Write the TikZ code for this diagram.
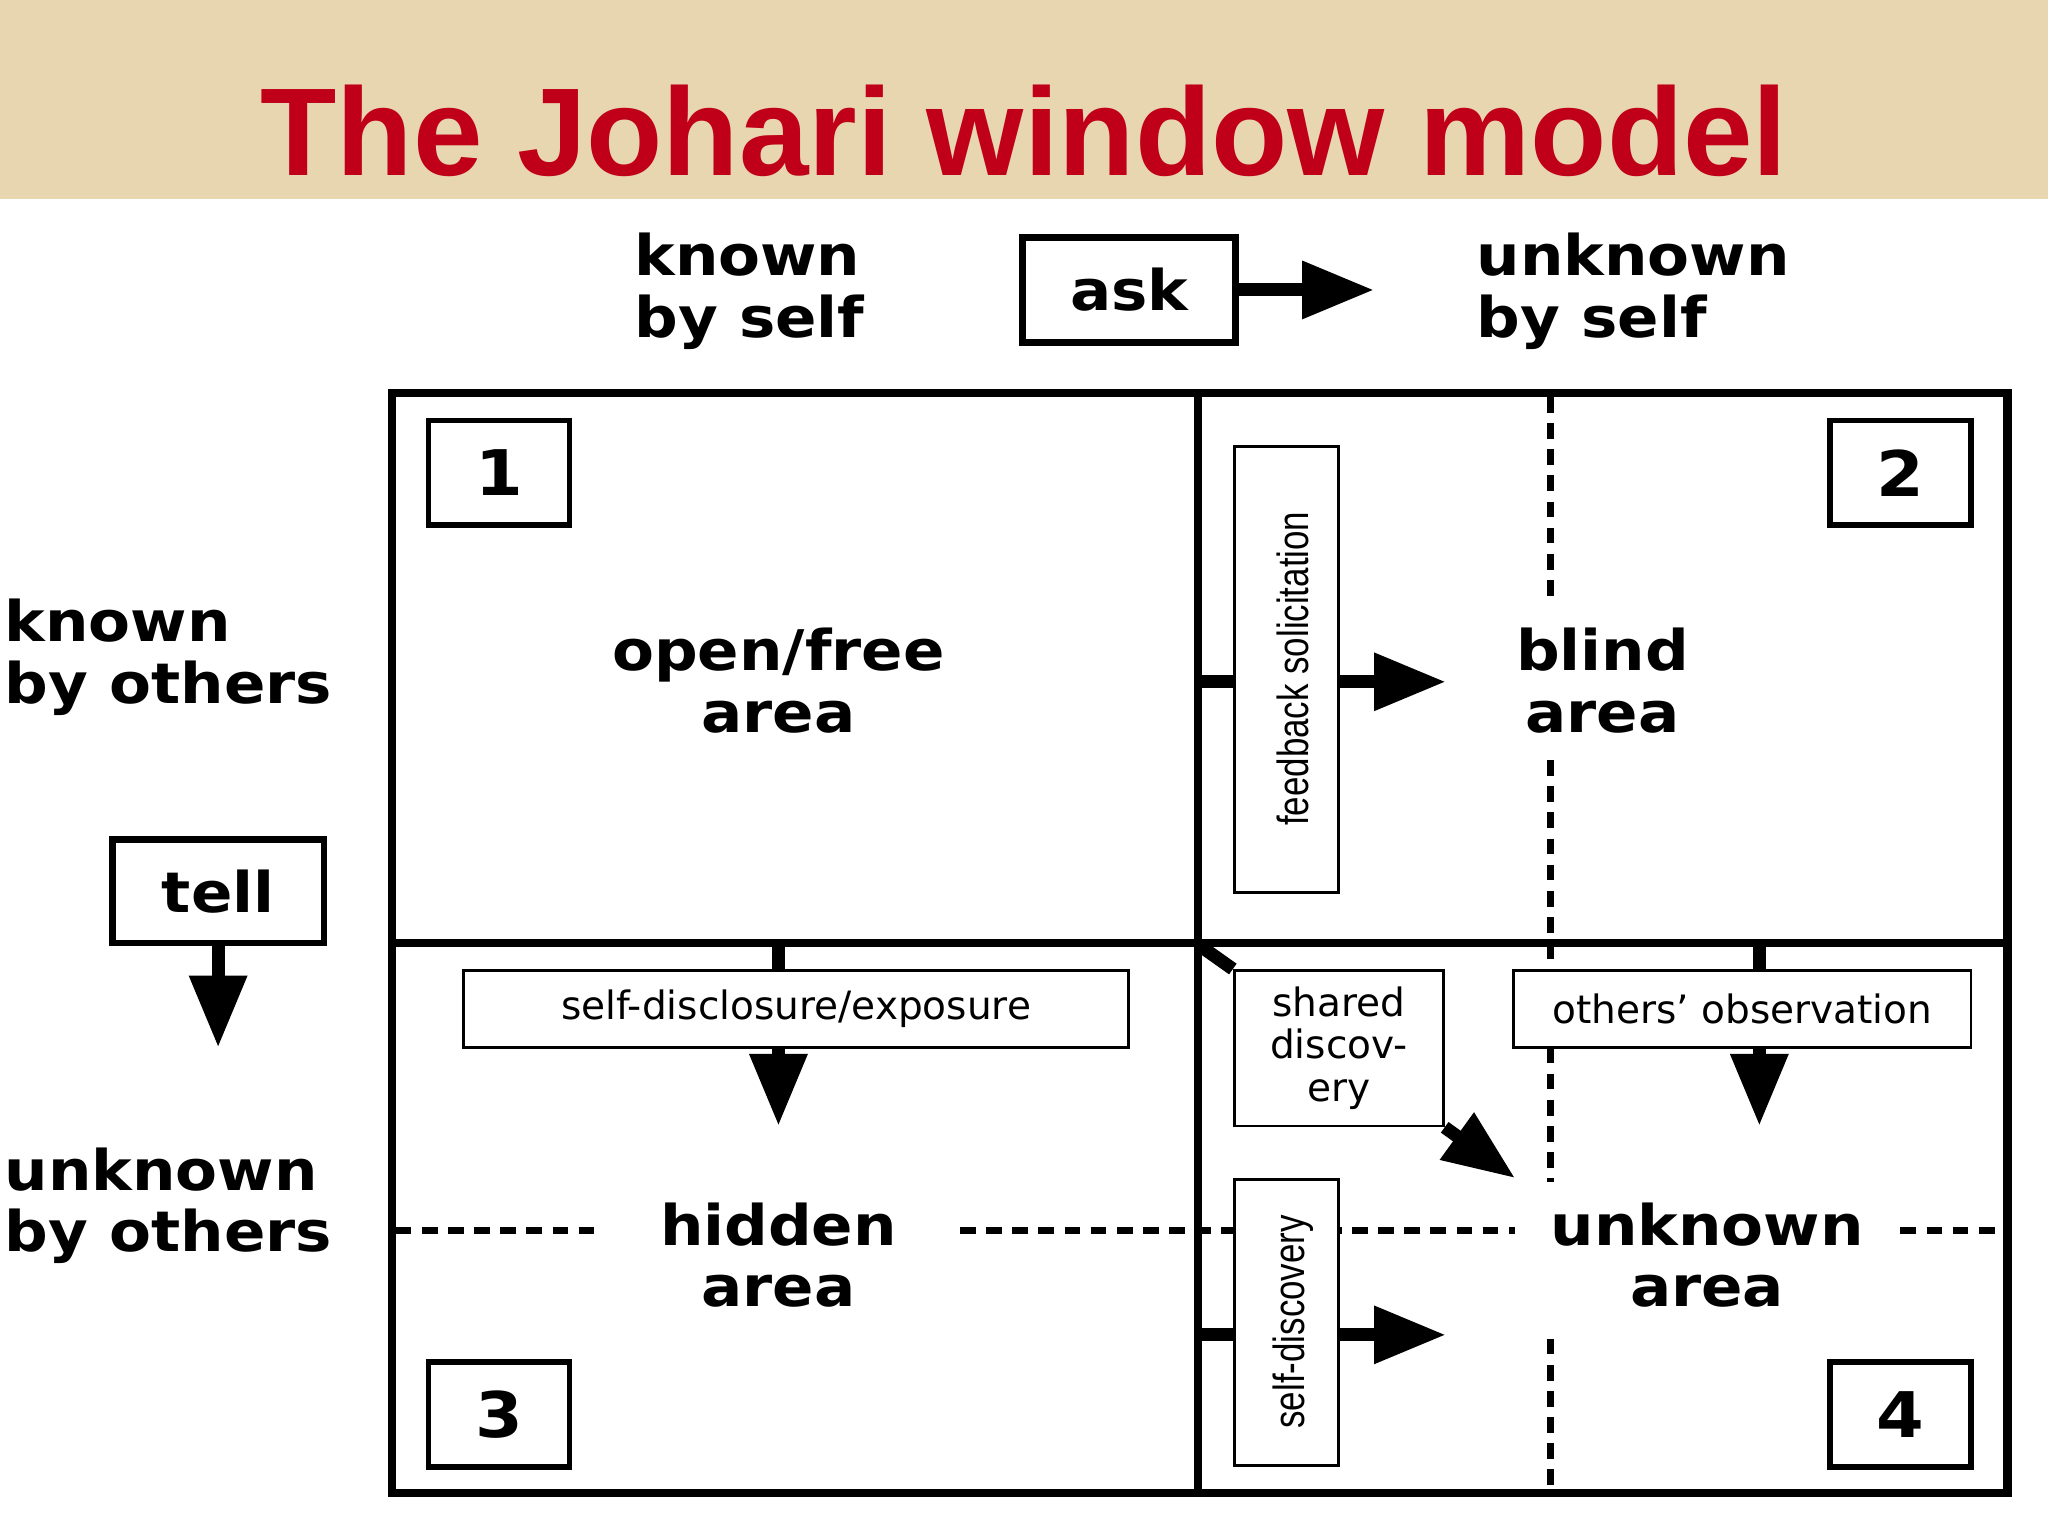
\documentclass[tikz,border=0pt]{standalone}
\usepackage{fontspec}
\setmainfont{DejaVu Sans}
\newfontfamily\widefont[FakeStretch=1.09]{DejaVu Sans}
\newfontfamily\titlefont{Liberation Sans}
\newfontfamily\narrowfont{Liberation Sans}
\usetikzlibrary{arrows.meta}
\definecolor{beige}{HTML}{E8D6B0}
\definecolor{titlered}{HTML}{C00018}
\tikzset{
 lab/.style={font=\fontsize{12.2}{13.4}\selectfont\widefont\bfseries,align=left,anchor=north west,inner sep=0},
 area/.style={font=\fontsize{12.2}{13.4}\selectfont\widefont\bfseries,align=center,inner sep=0},
 numbox/.style={draw,line width=1.2pt,minimum width=1.08cm,minimum height=0.8cm,font=\fontsize{13.7}{14}\selectfont\widefont\bfseries},
 smallbox/.style={draw,line width=0.6pt,font=\fontsize{8.5}{9.2}\selectfont,align=center,inner sep=0},
 big/.style={line width=0.1cm,-{Triangle[length=0.55cm,width=0.42cm]}},
 stub/.style={line width=0.1cm},
 dsh/.style={line width=1.4pt,dash pattern=on 0.12cm off 0.08cm},
 frame/.style={line width=1.8pt}
}
\begin{document}
\begin{tikzpicture}[x=0.01cm,y=-0.01cm]
\useasboundingbox (0,0) rectangle (1568,1176);
\fill[beige] (0,0) rectangle (1568,152);
\node[font=\fontsize{27.2}{29}\selectfont\bfseries\titlefont,text=titlered] (title) at (784,100) {The Johari window model};
% top labels
\node[lab] (kbs) at (485,178) {known\\by self};
\node[draw,line width=1.5pt,minimum width=1.63cm,minimum height=0.8cm,font=\fontsize{12.2}{13}\selectfont\widefont\bfseries] (ask) at (864.5,222) {ask};
\coordinate (askend) at (1052,222);
\draw[big] (ask.east) -- (askend);
\node[lab] (ubs) at (1130,178) {unknown\\by self};
% left labels
\node[lab] (kbo) at (3,458) {known\\by others};
\node[draw,line width=1.5pt,minimum width=1.62cm,minimum height=0.79cm,font=\fontsize{12.2}{13}\selectfont\widefont\bfseries] (tell) at (167,682.5) {tell};
\coordinate (tellend) at (167,802);
\draw[big] (tell.south) -- (tellend);
\node[lab] (ubo) at (3,878) {unknown\\by others};
% dashed lines
\draw[dsh] (1187,304) -- (1187,458);
\draw[dsh] (1187,582) -- (1187,905);
\draw[dsh] (1187,1025) -- (1187,1140);
\draw[dsh] (303,942) -- (462,942);
\draw[dsh] (735,942) -- (1160,942);
\draw[dsh] (1455,942) -- (1535,942);
% frame
\draw[frame] (300,301) rectangle (1537,1143);
\draw[frame] (917,301) -- (917,1143);
\draw[frame] (300,722) -- (1537,722);
% numbers
\node[numbox,fill=white] (n1) at (382,362) {1};
\node[numbox,fill=white] (n2) at (1455,362) {2};
\node[numbox,fill=white] (n3) at (382,1083) {3};
\node[numbox,fill=white] (n4) at (1455,1083) {4};
% areas
\node[area] (open) at (596,521) {open/free\\area};
\node[area] (blind) at (1227,521) {blind\\area};
\node[area,fill=white] (hidden) at (596,961) {hidden\\area};
\node[area,fill=white] (unknown) at (1307,961) {unknown\\area};
% feedback
\node[smallbox,fill=white,minimum width=0.8cm,minimum height=3.41cm] (fb) at (985,512.5) {};
\node[font=\fontsize{9.5}{10}\selectfont\narrowfont,rotate=90,xscale=0.8] (fbt) at (990,512) {feedback solicitation};
\coordinate (fbs) at (917,522);
\coordinate (fbe) at (1107,522);
\draw[stub] (fbs) -- (fb.west |- fbs);
\draw[big] (fb.east |- fbs) -- (fbe);
% self-discovery
\node[smallbox,fill=white,minimum width=0.8cm,minimum height=2.19cm] (sd) at (985,1012.5) {};
\node[font=\fontsize{9.5}{10}\selectfont\narrowfont,rotate=90,xscale=0.8] (sdt) at (990,1012) {self-discovery};
\coordinate (sds) at (917,1022);
\coordinate (sde) at (1107,1022);
\draw[stub] (sds) -- (sd.west |- sds);
\draw[big] (sd.east |- sds) -- (sde);
% self-disclosure
\node[smallbox,fill=white,minimum width=5.09cm,minimum height=0.59cm] (sdc) at (609.5,772.5) {self-disclosure/exposure};
\coordinate (sdcs) at (596,722);
\coordinate (sdce) at (596,862);
\draw[stub] (sdcs) -- (sdcs |- sdc.north);
\draw[big] (sdcs |- sdc.south) -- (sdce);
% others' observation
\node[smallbox,fill=white,minimum width=3.5cm,minimum height=0.59cm] (oo) at (1334,772.5) {others' observation};
\coordinate (oos) at (1347,722);
\coordinate (ooe) at (1347,862);
\draw[stub] (oos) -- (oos |- oo.north);
\draw[big] (oos |- oo.south) -- (ooe);
% shared discovery
\node[smallbox,fill=white,minimum width=1.6cm,minimum height=1.19cm] (sh) at (1025,802.5) {shared\\discov-\\ery};
\coordinate (shs) at (920,725);
\coordinate (she) at (1160,902);
\draw[line width=0.1cm] (shs) -- (sh.north west);
\draw[big] (sh.south east) -- (she);
\end{tikzpicture}
\end{document}
